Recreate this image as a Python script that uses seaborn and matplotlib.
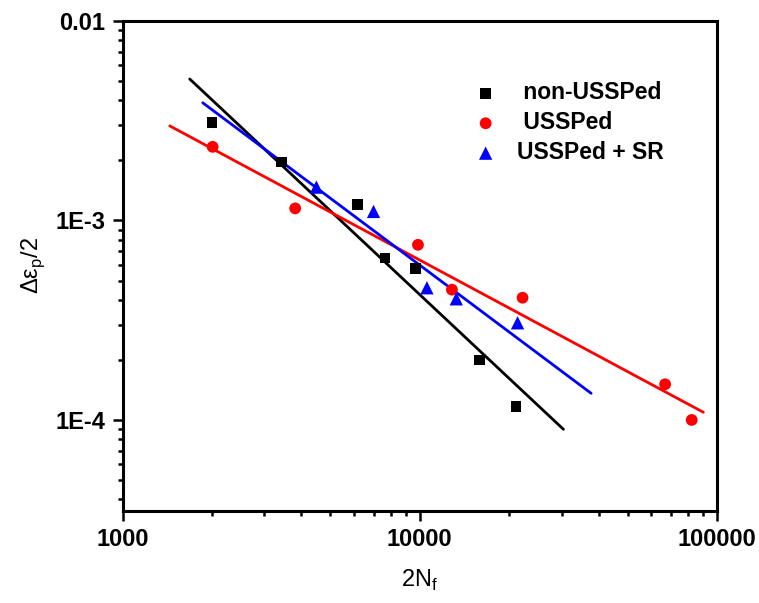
"""Low-cycle fatigue: plastic strain amplitude vs. reversals to failure (Coffin-Manson)."""

import matplotlib
matplotlib.use("Agg")
import matplotlib.pyplot as plt
import matplotlib.ticker as mticker
import pandas as pd
import seaborn as sns

# measured points
non_x = [2000, 3420, 6180, 7650, 9660, 15850, 21100]
non_y = [3.1e-3, 1.96e-3, 1.2e-3, 6.5e-4, 5.75e-4, 2.0e-4, 1.17e-4]

uss_x = [2010, 3810, 9860, 12830, 22170, 66900, 82200]
uss_y = [2.34e-3, 1.15e-3, 7.55e-4, 4.5e-4, 4.1e-4, 1.51e-4, 1.0e-4]

sr_x = [4490, 6990, 10570, 13270, 21330]
sr_y = [1.47e-3, 1.11e-3, 4.6e-4, 4.05e-4, 3.07e-4]

# fitted lines (end points, straight in log-log)
non_fit_x = [1683, 30430]
non_fit_y = [5.12e-3, 8.98e-5]
uss_fit_x = [1442, 89950]
uss_fit_y = [2.98e-3, 1.093e-4]
sr_fit_x = [1862, 37720]
sr_fit_y = [3.89e-3, 1.36e-4]

labels = [" non-USSPed", " USSPed", "USSPed + SR"]
colors = ["black", "red", "blue"]
markers = ["s", "o", "^"]
sizes = [58, 72, 92]

sns.set_style("ticks")
plt.rcParams["font.family"] = ["Liberation Sans", "DejaVu Sans"]
plt.rcParams["mathtext.fontset"] = "custom"
plt.rcParams["mathtext.rm"] = "Liberation Sans"
plt.rcParams["text.color"] = "black"
plt.rcParams["axes.labelcolor"] = "black"

fig = plt.figure(figsize=(7.59, 6.03), dpi=100)
ax = fig.add_axes([0.1614, 0.1531, 0.7833, 0.8121])

fits = [(non_fit_x, non_fit_y), (uss_fit_x, uss_fit_y), (sr_fit_x, sr_fit_y)]
for (fx, fy), c in zip(fits, colors):
    sns.lineplot(x=fx, y=fy, color=c, lw=2.0, ax=ax, legend=False)

points = [(non_x, non_y), (uss_x, uss_y), (sr_x, sr_y)]
for (px, py), lab, c, m, s in zip(points, labels, colors, markers, sizes):
    df = pd.DataFrame({"x": px, "y": py})
    sns.scatterplot(data=df, x="x", y="y", color=c, marker=m, s=s,
                    edgecolor="none", label=lab, ax=ax, zorder=3)

ax.set_xscale("log")
ax.set_yscale("log")
ax.set_xlim(1000, 100000)
ax.set_ylim(3.51e-5, 0.01)

ax.xaxis.set_major_locator(mticker.FixedLocator([1000, 10000, 100000]))
ax.xaxis.set_major_formatter(mticker.FixedFormatter(["1000", "10000", "100000"]))
ax.yaxis.set_major_locator(mticker.FixedLocator([1e-4, 1e-3, 1e-2]))
ax.yaxis.set_major_formatter(mticker.FixedFormatter(["1E-4", "1E-3", "0.01"]))
ax.xaxis.set_minor_locator(mticker.LogLocator(base=10, subs=range(2, 10)))
ax.yaxis.set_minor_locator(mticker.LogLocator(base=10, subs=range(2, 10)))
ax.xaxis.set_minor_formatter(mticker.NullFormatter())
ax.yaxis.set_minor_formatter(mticker.NullFormatter())

ax.tick_params(which="major", direction="out", length=7.5, width=1.8,
               labelsize=17, pad=5, colors="black")
ax.tick_params(which="minor", direction="out", length=3.8, width=1.8,
               colors="black")
for t in ax.get_xticklabels() + ax.get_yticklabels():
    t.set_fontweight("bold")
for sp in ax.spines.values():
    sp.set_linewidth(2.2)
    sp.set_color("black")

ax.set_xlabel("2N$_\\mathregular{f}$", fontsize=17, labelpad=12)
ax.set_ylabel("Δε$_\\mathregular{p}$/2", fontsize=17, labelpad=6)

leg = ax.legend(loc="upper left", bbox_to_anchor=(0.553, 0.9), frameon=False,
                handletextpad=0.35, labelspacing=0.3, borderpad=0,
                prop={"weight": "bold", "size": 16.5})

fig.savefig("out.png", dpi=100)
